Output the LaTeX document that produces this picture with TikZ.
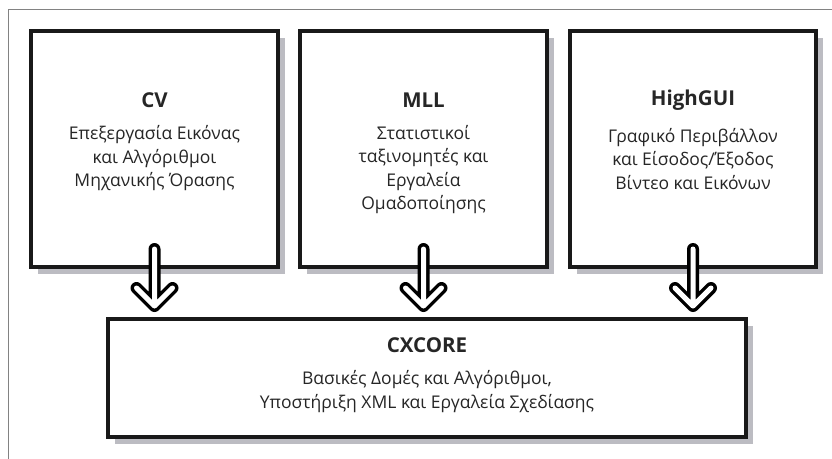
\documentclass[tikz,border=0pt]{standalone}
\usepackage{fontspec}
\setmainfont{Open Sans}
\usetikzlibrary{positioning,shadows,calc}
\definecolor{shadowgray}{RGB}{188,188,194}
\definecolor{framegray}{RGB}{130,130,130}

\begin{document}
\begin{tikzpicture}[x=1pt, y=-1pt, node distance=11pt,
	box/.style={rectangle, draw=black!90, line width=4pt, fill=white,
		drop shadow={shadow xshift=7pt, shadow yshift=-7pt, fill=shadowgray, opacity=1}},
	title/.style={font=\fontsize{20.5}{24}\selectfont\bfseries, text=black!85},
	body/.style={font=\fontsize{17.5}{23.5}\selectfont, text=black!85, align=center},
	hollow/.style={line width=3.5pt, double=white, double distance=5pt, line cap=round, line join=round}]
				\useasboundingbox (0,0) rectangle (832,458);
				\draw[framegray, line width=1pt] (8.5,470) -- (8.5,9.5) -- (840,9.5);
				
				\node[box, minimum width=247pt, minimum height=236pt, anchor=north west] (cv) at (29,29) {};
				\node[box, minimum width=247pt, minimum height=236pt, right=18pt of cv] (mll) {};
				\node[box, minimum width=246pt, minimum height=236pt, right=19pt of mll] (gui) {};
				\node[box, minimum width=638pt, minimum height=118pt, anchor=north west] (core) at (106,317) {};
				
				\node[title] (cvtitle) at ($(cv.north)+(0,71)$) {CV};
				\node[body, below=of cvtitle] (cvtext) {Επεξεργασία Εικόνας\\και Αλγόριθμοι\\Μηχανικής Όρασης};
				\node[title] (mlltitle) at ($(mll.north)+(0,71)$) {MLL};
				\node[body, below=of mlltitle] (mlltext) {Στατιστικοί\\ταξινομητές και\\Εργαλεία\\Ομαδοποίησης};
				\node[title] (guititle) at ($(gui.north)+(0,71)$) {HighGUI};
				\node[body, below=of guititle] (guitext) {Γραφικό Περιβάλλον\\και Είσοδος/Έξοδος\\Βίντεο και Εικόνων};
				\node[title] (coretitle) at ($(core.north)+(0,28)$) {CXCORE};
				\node[body, below=of coretitle] (coretext) {Βασικές Δομές και Αλγόριθμοι,\\Υποστήριξη XML και Εργαλεία Σχεδίασης};
				
				\foreach \n in {cv,mll,gui}
					\draw[hollow] ($(\n.south)+(0,-20)$) -- ($(\n.south |- core.north)+(0,-11)$) coordinate (tip)
						($(tip)+(-18,-18)$) -- (tip) -- ($(tip)+(18,-18)$);
			\end{tikzpicture}
\end{document}
